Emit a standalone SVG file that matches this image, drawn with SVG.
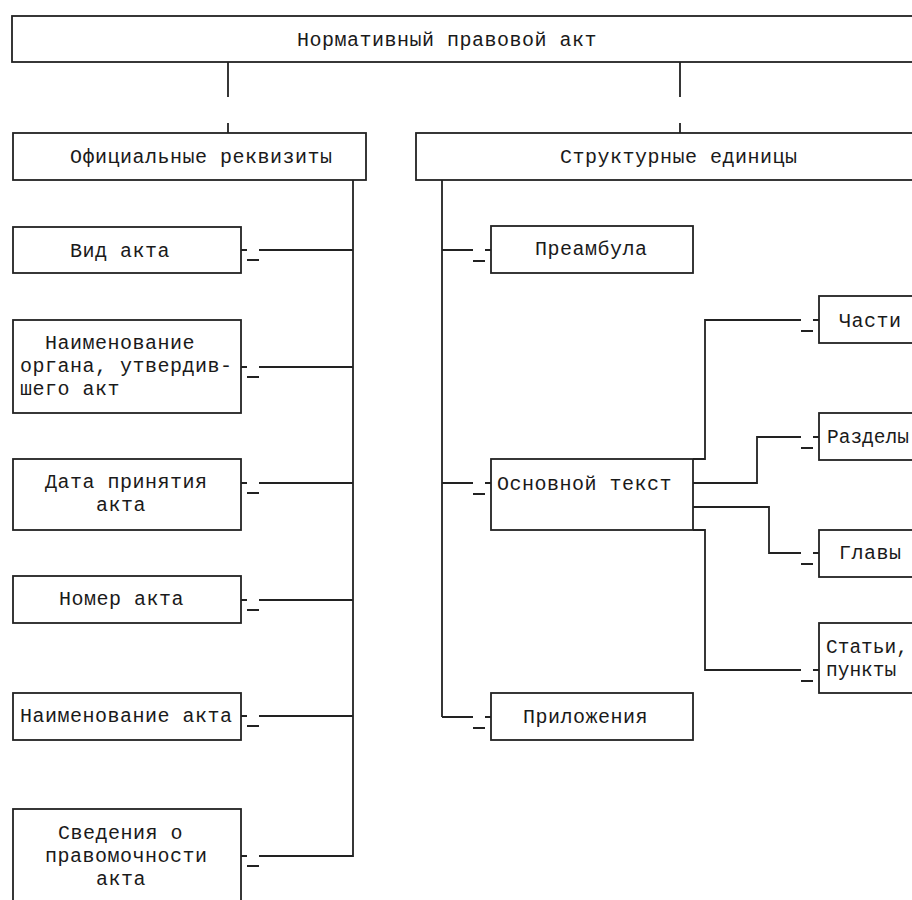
<svg xmlns="http://www.w3.org/2000/svg" width="912" height="900" viewBox="0 0 912 900">
<style>
rect.box{fill:#fff;stroke:#222;stroke-width:1.8}
text{font-family:"Liberation Mono","DejaVu Sans Mono",monospace;font-size:20px;letter-spacing:0.5px;fill:#1a1a1a}
text.tight{font-size:19.5px;letter-spacing:0}
#connectors path{fill:none;stroke:#222;stroke-width:1.8}
</style>
<rect width="912" height="900" fill="#fff"/>
<g id="connectors">
<path d="M228 62V97M228 123V133M680 62V97M680 123V133"/>
<path d="M353 180V857M442 180V717"/>
<path d="M241 250H247M247 260H259M259 250H353"/>
<path d="M241 367H247M247 377H259M259 367H353"/>
<path d="M241 483H247M247 493H259M259 483H353"/>
<path d="M241 600H247M247 610H259M259 600H353"/>
<path d="M241 716H247M247 726H259M259 716H353"/>
<path d="M241 856H247M247 866H259M259 856H353"/>
<path d="M442 250H473M473 261H485M485 250H491"/>
<path d="M442 483H473M473 494H485M485 483H491"/>
<path d="M442 717H473M473 728H485M485 717H491"/>
<path d="M693 459H705V320H801M801 331H813M813 320H819"/>
<path d="M693 483H757V437H801M801 448H813M813 437H819"/>
<path d="M693 507H769V553H801M801 564H813M813 553H819"/>
<path d="M693 530H705V670H801M801 681H813M813 670H819"/>
</g>
<g id="n-root"><rect class="box" x="12" y="16" width="920" height="46"/><text x="297" y="46">Нормативный правовой акт</text></g>
<g id="n-rekv"><rect class="box" x="13" y="133" width="353" height="47"/><text x="70" y="163">Официальные реквизиты</text></g>
<g id="n-struct"><rect class="box" x="416" y="133" width="520" height="47"/><text x="560" y="163">Структурные единицы</text></g>
<g id="n-vid"><rect class="box" x="13" y="227" width="228" height="46"/><text x="70" y="257">Вид акта</text></g>
<g id="n-organ"><rect class="box" x="13" y="320" width="228" height="93"/><text x="45" y="349">Наименование</text><text x="20" y="372">органа, утвердив-</text><text x="20" y="395">шего акт</text></g>
<g id="n-data"><rect class="box" x="13" y="459" width="228" height="71"/><text x="45" y="488">Дата принятия</text><text x="96" y="511">акта</text></g>
<g id="n-nomer"><rect class="box" x="13" y="576" width="228" height="47"/><text x="59" y="605">Номер акта</text></g>
<g id="n-naim"><rect class="box" x="13" y="693" width="228" height="47"/><text x="20" y="722">Наименование акта</text></g>
<g id="n-sved"><rect class="box" x="13" y="809" width="228" height="110"/><text x="58" y="839">Сведения о</text><text x="45" y="862">правомочности</text><text x="96" y="885">акта</text></g>
<g id="n-preamb"><rect class="box" x="491" y="226" width="202" height="47"/><text x="535" y="255">Преамбула</text></g>
<g id="n-osn"><rect class="box" x="491" y="459" width="202" height="71"/><text x="497" y="490">Основной текст</text></g>
<g id="n-pril"><rect class="box" x="491" y="693" width="202" height="47"/><text x="523" y="723">Приложения</text></g>
<g id="n-chasti"><rect class="box" x="819" y="296" width="120" height="47"/><text x="839" y="327">Части</text></g>
<g id="n-razd"><rect class="box" x="819" y="413" width="120" height="47"/><text class="tight" x="827" y="443">Разделы</text></g>
<g id="n-glavy"><rect class="box" x="819" y="530" width="120" height="47"/><text x="839" y="559">Главы</text></g>
<g id="n-stat"><rect class="box" x="819" y="623" width="120" height="70"/><text class="tight" x="826" y="653">Статьи,</text><text class="tight" x="826" y="676">пункты</text></g>
</svg>
